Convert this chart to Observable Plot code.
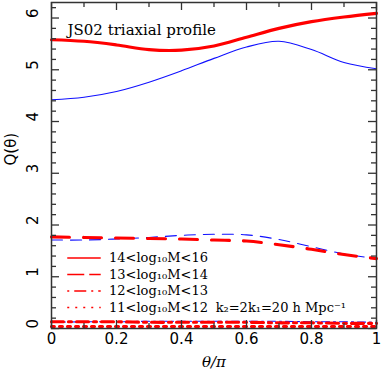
<!DOCTYPE html>
<html><head><meta charset="utf-8">
<script src="https://cdn.jsdelivr.net/npm/d3@7"></script>
<script src="https://cdn.jsdelivr.net/npm/@observablehq/plot@0.6"></script>
<style>body{margin:0;background:#fff}</style>
</head><body><div id="chart"></div>
<script>
// ---- data ----
const theta = [0, 0.1, 0.2, 0.3, 0.4, 0.5, 0.6, 0.7, 0.8, 0.9, 1.0];
// 14<log10M<16, thick red solid and thin blue solid
const redSolid  = [5.58, 5.55, 5.48, 5.39, 5.38, 5.46, 5.63, 5.80, 5.93, 6.02, 6.09];
const blueSolid = [4.42, 4.47, 4.58, 4.76, 4.98, 5.22, 5.44, 5.55, 5.39, 5.14, 5.02];
// 13<log10M<14
const redDashed  = [1.77, 1.76, 1.75, 1.74, 1.73, 1.71, 1.69, 1.62, 1.53, 1.43, 1.35];
const blueDashed = [1.71, 1.71, 1.73, 1.76, 1.80, 1.82, 1.81, 1.72, 1.58, 1.44, 1.35];
// 12<log10M<13
const redDashDot  = [0.13, 0.13, 0.13, 0.12, 0.12, 0.12, 0.12, 0.11, 0.11, 0.10, 0.10];
const blueDashDot = [0.12, 0.13, 0.13, 0.14, 0.14, 0.14, 0.14, 0.14, 0.13, 0.13, 0.12];
// 11<log10M<12
const redDotted  = [0.04, 0.04, 0.04, 0.04, 0.04, 0.04, 0.04, 0.04, 0.04, 0.04, 0.04];
const blueDotted = [0.03, 0.03, 0.03, 0.03, 0.03, 0.03, 0.03, 0.03, 0.03, 0.03, 0.03];

const legendLabels = ["14<log₁₀M<16", "13<log₁₀M<14", "12<log₁₀M<13", "11<log₁₀M<12"];
const xTickLabels = ["0", "0.2", "0.4", "0.6", "0.8", "1"];
const xTickValues = [0, 0.2, 0.4, 0.6, 0.8, 1];
const yTickValues = [0, 1, 2, 3, 4, 5, 6];
const titleText = "JS02 triaxial profile";
const noteText = "k₂=2k₁=20 h Mpc⁻¹";

// ---- styling / layout ----
const W = 382, H = 386;
const mL = 51, mR = 6, mT = 2, mB = 58;
const pw = W - mL - mR, ph = H - mT - mB;
const RED = "#ff0000", BLUE = "#1010ff", AX = "#333";
const serif = "DejaVu Serif";
const sans = "DejaVu Sans";

const styles = {
  solid:   {dash: null,        legend: null},
  dashed:  {dash: "18,14",     legend: "17,5"},
  dashdot: {dash: "12,5,3,5",  legend: "2,5,12,5"},
  dotted:  {dash: "3,5",       legend: "2,6"}
};
const series = [
  {vals: blueSolid,  color: BLUE, w: 1.1, kind: "solid"},
  {vals: blueDashed, color: BLUE, w: 1.1, kind: "dashed", dash: "11,8"},
  {vals: blueDashDot,color: BLUE, w: 1.1, kind: "dashdot", dash: "8,4,2,4"},
  {vals: blueDotted, color: BLUE, w: 1.1, kind: "dotted"},
  {vals: redSolid,   color: RED, w: 3.1, kind: "solid"},
  {vals: redDashed,  color: RED, w: 3.1, kind: "dashed"},
  {vals: redDashDot, color: RED, w: 3.1, kind: "dashdot"},
  {vals: redDotted,  color: RED, w: 3.1, kind: "dotted"}
];

const marks = [];
for (const s of series) {
  const rows = theta.map((t, i) => ({theta: t, q: s.vals[i]}));
  marks.push(Plot.line(rows, {
    x: "theta", y: "q", stroke: s.color, strokeWidth: s.w,
    strokeDasharray: s.dash || styles[s.kind].dash, curve: "catmull-rom"
  }));
}

// legend (inside plot)
const legendKinds = ["solid", "dashed", "dashdot", "dotted"];
const legendY = [1.362, 1.043, 0.724, 0.404];
legendKinds.forEach((k, i) => {
  marks.push(Plot.ruleY([legendY[i]], {y: d => d, x1: 0.05, x2: 0.153, stroke: RED, strokeWidth: 1.5,
    strokeDasharray: styles[k].legend}));
});
marks.push(Plot.text(legendLabels, {x: 0.177, y: (d, i) => legendY[i], text: d => d, textAnchor: "start",
  fontFamily: serif, fontSize: 13, fill: "#000"}));
marks.push(Plot.text([noteText], {x: 0.505, y: legendY[3], text: d => d, textAnchor: "start",
  fontFamily: serif, fontSize: 13, fill: "#000"}));
marks.push(Plot.text([titleText], {frameAnchor: "top-left", dx: 16, dy: 22, text: d => d, textAnchor: "start",
  fontFamily: serif, fontSize: 15, fill: "#000"}));

// ticks (inside, mirrored)
const xMinor = d3.range(0, 1.0001, 0.1).map(v => +v.toFixed(2)).filter(v => !xTickValues.some(m => Math.abs(m - v) < 1e-9));
const yMinor = d3.range(0, 6.3, 0.2).map(v => +v.toFixed(2)).filter(v => !yTickValues.some(m => Math.abs(m - v) < 1e-9));
const tk = {stroke: AX, strokeWidth: 1.3};
marks.push(Plot.ruleX(xTickValues, {x: d => d, insetTop: ph - 8, ...tk}));
marks.push(Plot.ruleX(xTickValues, {x: d => d, insetBottom: ph - 8, ...tk}));
marks.push(Plot.ruleX(xMinor, {x: d => d, insetTop: ph - 5, ...tk}));
marks.push(Plot.ruleX(xMinor, {x: d => d, insetBottom: ph - 5, ...tk}));
marks.push(Plot.ruleY(yTickValues, {y: d => d, insetRight: pw - 8, ...tk}));
marks.push(Plot.ruleY(yTickValues, {y: d => d, insetLeft: pw - 8, ...tk}));
marks.push(Plot.ruleY(yMinor, {y: d => d, insetRight: pw - 5, ...tk}));
marks.push(Plot.ruleY(yMinor, {y: d => d, insetLeft: pw - 5, ...tk}));
marks.push(Plot.frame({stroke: AX, strokeWidth: 1.5}));

// tick labels
marks.push(Plot.text(xTickValues, {x: d => d, text: (d, i) => xTickLabels[i], frameAnchor: "bottom", dy: 15,
  fontFamily: sans, fontSize: 15, fill: "#000"}));
marks.push(Plot.text(yTickValues, {y: d => d, text: d => String(d), frameAnchor: "left", dx: -18, rotate: -90,
  fontFamily: sans, fontSize: 15, fill: "#000"}));
// axis titles
marks.push(Plot.text(["Q(θ)"], {frameAnchor: "left", dx: -40, rotate: -90, text: d => d,
  fontFamily: sans, fontSize: 15, fill: "#000"}));
marks.push(Plot.text(["θ/π"], {frameAnchor: "bottom", dy: 38, text: d => d,
  fontFamily: serif, fontStyle: "italic", fontSize: 15, fill: "#000"}));

const chart = Plot.plot({
  width: W, height: H,
  marginLeft: mL, marginRight: mR, marginTop: mT, marginBottom: mB,
  x: {domain: [0, 1], axis: null},
  y: {domain: [0, 6.3], axis: null},
  style: {background: "#fff", overflow: "visible"},
  marks
});
document.getElementById("chart").appendChild(chart);
</script>
</body></html>
